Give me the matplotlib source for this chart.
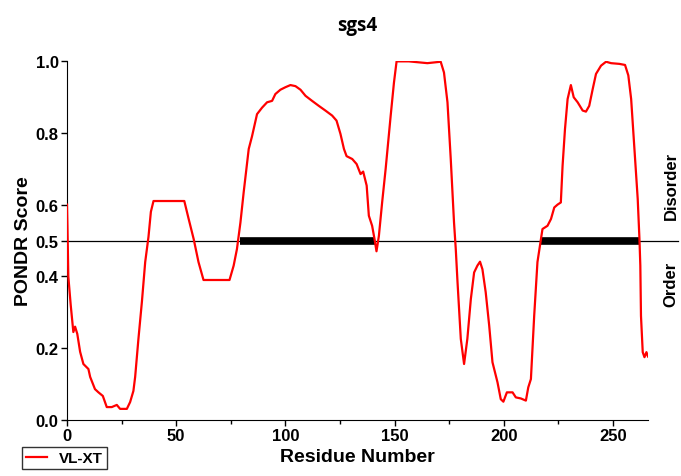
import matplotlib.pyplot as plt

plt.rcParams['font.family'] = ['Liberation Sans', 'DejaVu Sans']

# VL-XT trace
residue = [0, 0.2, 0.6, 1.7, 2.9, 3.7, 4.7, 6, 7.5, 9.8, 10.6, 12.8, 14.4, 16.4, 18.2, 20.5,
           22.8, 24.3, 27.4, 28.9, 30.4, 31.2, 32.7, 34.3, 35.8, 37.3, 38.4, 39.6, 53.7, 55.7,
           58, 60.2, 62.5, 74.4, 76.3, 77.8, 79.4, 80.9, 83.2, 84.7, 87, 89.3, 91.6, 93.9,
           95.4, 97.7, 100, 102.3, 104.6, 106.9, 109.2, 112.2, 115.3, 118.3, 121.4, 123.4,
           125.2, 126.8, 128, 130.6, 132.6, 134.4, 135.6, 136.2, 137.2, 138.2, 139.7, 140.8,
           141.7, 142.8, 144.3, 145.9, 148.2, 149.7, 150.9, 156.5, 165, 171.1, 172.6, 174.2,
           175.7, 177.2, 178, 178.8, 180.3, 181.8, 183.3, 184.9, 186.4, 187.9, 189.1, 190.2,
           191.7, 193.3, 194.8, 197.1, 198.6, 199.8, 201.4, 204, 205.5, 207.8, 210.1, 211.2,
           212.4, 213.9, 215.4, 217, 217.7, 220, 221.6, 223.1, 224.6, 226.1, 226.9, 228,
           229.2, 230.7, 232, 233.8, 236.1, 237.6, 239.1, 240.7, 242.2, 244.5, 246.8, 249.1,
           252.9, 255.5, 257, 258.3, 259.8, 261.3, 262.1, 262.5, 262.8, 263.6, 264.4, 265.3,
           266]
score = [0.60, 0.54, 0.40, 0.32, 0.245, 0.26, 0.24, 0.19, 0.156, 0.142, 0.12, 0.086, 0.077,
         0.067, 0.036, 0.036, 0.042, 0.031, 0.031, 0.05, 0.081, 0.12, 0.226, 0.33, 0.44, 0.51,
         0.58, 0.61, 0.61, 0.56, 0.504, 0.44, 0.39, 0.39, 0.43, 0.476, 0.55, 0.635, 0.755,
         0.79, 0.852, 0.87, 0.885, 0.889, 0.908, 0.92, 0.927, 0.933, 0.93, 0.92, 0.903,
         0.889, 0.875, 0.862, 0.848, 0.834, 0.797, 0.755, 0.735, 0.727, 0.713, 0.685, 0.692,
         0.677, 0.653, 0.569, 0.541, 0.504, 0.47, 0.513, 0.607, 0.70, 0.848, 0.94, 0.999,
         0.999, 0.994, 0.998, 0.968, 0.885, 0.727, 0.55, 0.476, 0.384, 0.226, 0.156, 0.226,
         0.337, 0.411, 0.43, 0.441, 0.42, 0.356, 0.263, 0.161, 0.105, 0.058, 0.051, 0.077,
         0.077, 0.063, 0.06, 0.054, 0.091, 0.114, 0.29, 0.44, 0.504, 0.532, 0.541, 0.56,
         0.592, 0.60, 0.606, 0.708, 0.81, 0.894, 0.933, 0.899, 0.885, 0.862, 0.859, 0.875,
         0.922, 0.964, 0.987, 0.998, 0.994, 0.992, 0.989, 0.96, 0.894, 0.755, 0.616, 0.504,
         0.43, 0.29, 0.189, 0.175, 0.189, 0.177]

# disordered segments (score above 0.5)
seg_start = [79.4, 217]
seg_end = [140.8, 262.1]

fig = plt.figure(figsize=(6.81, 4.77), dpi=100)
ax = fig.add_axes([0.0984, 0.1174, 0.8531, 0.7526])

line, = ax.plot(residue, score, color='#ff0000', lw=1.6, label='VL-XT', zorder=3)
ax.axhline(0.5, xmin=0, xmax=1.052, color='black', lw=0.9, clip_on=False, zorder=2)
ax.hlines([0.5] * len(seg_start), seg_start, seg_end, color='black', lw=5.5, zorder=2)

ax.set_xlim(0, 266)
ax.set_ylim(0, 1)
ax.set_xticks([0, 50, 100, 150, 200, 250])
ax.set_xticks([25, 75, 125, 175, 225], minor=True)
ax.set_yticks([0.0, 0.2, 0.4, 0.5, 0.6, 0.8, 1.0])
ax.set_yticklabels(['0.0', '0.2', '0.4', '0.5', '0.6', '0.8', '1.0'])
for s in ['top', 'right']:
    ax.spines[s].set_visible(False)
ax.tick_params(direction='out', length=4, width=1, labelsize=12, pad=2)
ax.tick_params(which='minor', direction='out', length=3, width=1)
for lab in ax.get_xticklabels() + ax.get_yticklabels():
    lab.set_fontweight('bold')

ax.set_xlabel('Residue Number', fontsize=14, fontweight='bold', labelpad=3)
ax.set_ylabel('PONDR Score', fontsize=14, fontweight='bold', labelpad=3)
ax.set_title('sgs4', fontsize=13.5, fontweight='bold', family=['Open Sans', 'DejaVu Sans'], pad=22)

ax.text(1.04, 0.655, 'Disorder', transform=ax.transAxes, rotation=90, ha='center', va='center',
        fontsize=12, fontweight='bold')
ax.text(1.04, 0.38, 'Order', transform=ax.transAxes, rotation=90, ha='center', va='center',
        fontsize=12, fontweight='bold')

leg = fig.legend(handles=[line], loc='lower left', bbox_to_anchor=(0.032, 0.015),
                 borderaxespad=0, frameon=True, fancybox=False, edgecolor='black',
                 fontsize=11, handlelength=1.4, borderpad=0.25, handletextpad=0.8)
leg.get_frame().set_linewidth(1)
for t in leg.get_texts():
    t.set_fontweight('bold')

fig.savefig('out.png', dpi=100)
